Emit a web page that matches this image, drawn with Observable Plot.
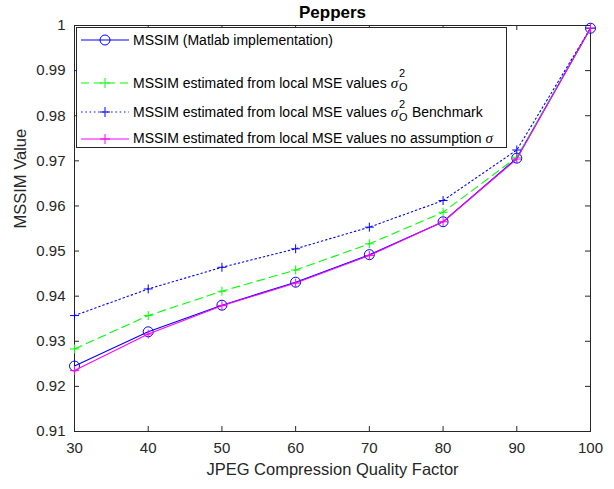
<!DOCTYPE html>
<html>
<head>
<meta charset="utf-8">
<script src="https://cdn.jsdelivr.net/npm/d3@7"></script>
<script src="https://cdn.jsdelivr.net/npm/@observablehq/plot@0.6"></script>
<style>
  body { margin: 0; background: #fff; font-family: "Liberation Sans", Arial, sans-serif; }
  #wrap { position: relative; width: 614px; height: 489px; }
  .legend { position: absolute; left: 76px; top: 27px; width: 429px; height: 119px;
            border: 1px solid #262626; background: #fff; font-size: 14px; color: #000; }
  .row { position: absolute; left: 0; height: 20px; display: flex; align-items: center; white-space: nowrap; }
  .row svg { margin-left: 4px; margin-right: 4px; }
  .sig { font-family: "Liberation Serif", serif; font-style: italic; font-size: 15px; margin-left: 4px; }
  .ss { position: relative; display: inline-block; width: 10px; height: 14px; font-size: 11px; }
  .ss span { position: absolute; left: 1px; line-height: 1; }
</style>
</head>
<body>
<div id="wrap"></div>
<script>
// JPEG quality factors on the x axis
const quality = [30, 40, 50, 60, 70, 80, 90, 100];

// MSSIM per quality factor, one array per method
const mssimMatlab       = [0.9245, 0.9321, 0.9380, 0.9431, 0.9492, 0.9565, 0.9706, 0.9994];
const mssimLocal        = [0.9283, 0.9357, 0.9411, 0.9458, 0.9516, 0.9586, 0.9708, 0.9994];
const mssimBenchmark    = [0.9357, 0.9416, 0.9464, 0.9505, 0.9553, 0.9612, 0.9724, 0.9994];
const mssimNoAssumption = [0.9235, 0.9316, 0.9379, 0.9429, 0.9490, 0.9565, 0.9704, 0.9994];

// axis ticks
const xTicks = [30, 40, 50, 60, 70, 80, 90, 100];
const yTicks = [0.91, 0.92, 0.93, 0.94, 0.95, 0.96, 0.97, 0.98, 0.99, 1];

const title = "Peppers";
const xLabel = "JPEG Compression Quality Factor";
const yLabel = "MSSIM Value";

const W = 614, H = 489, mL = 74, mR = 24, mT = 25, mB = 58;
const iw = W - mL - mR, ih = H - mT - mB, tk = 5;
const axisColor = "#262626";

const series = (ys) => quality.map((q, i) => ({q, v: ys[i]}));
const sMatlab = series(mssimMatlab);
const sLocal = series(mssimLocal);
const sBench = series(mssimBenchmark);
const sNoAss = series(mssimNoAssumption);

const lineOpts = {x: "q", y: "v", strokeWidth: 1.1};
const plusOpts = {x: "q", y: "v", r: 3, symbol: "plus", strokeWidth: 1};

const chart = Plot.plot({
  width: W, height: H,
  marginLeft: mL, marginRight: mR, marginTop: mT, marginBottom: mB,
  style: {fontFamily: "'Liberation Sans', Arial, sans-serif", fontSize: "15px", color: axisColor, background: "#fff"},
  x: {domain: [30, 100]},
  y: {domain: [0.91, 1]},
  marks: [
    Plot.axisX(xTicks, {tickSize: 0, tickPadding: 11, label: null, fontSize: 15}),
    Plot.axisY(yTicks, {tickSize: 0, tickPadding: 9, label: null, fontSize: 15,
                        tickFormat: d => String(+d.toFixed(2))}),
    // inward ticks on all four sides
    Plot.tickX(xTicks, {x: d => d, insetTop: ih - tk, stroke: axisColor}),
    Plot.tickX(xTicks, {x: d => d, insetBottom: ih - tk, stroke: axisColor}),
    Plot.tickY(yTicks, {y: d => d, insetRight: iw - tk, stroke: axisColor}),
    Plot.tickY(yTicks, {y: d => d, insetLeft: iw - tk, stroke: axisColor}),
    Plot.frame({stroke: axisColor}),
    // MSSIM (Matlab implementation)
    Plot.line(sMatlab, {...lineOpts, stroke: "#0000ff"}),
    Plot.dot(sMatlab, {x: "q", y: "v", r: 5, stroke: "#0000ff", fill: "none", strokeWidth: 1}),
    // local MSE, sigma_O^2
    Plot.line(sLocal, {...lineOpts, stroke: "#00ff00", strokeDasharray: "8,5"}),
    Plot.dot(sLocal, {...plusOpts, stroke: "#00ff00"}),
    // local MSE, sigma_O^2 benchmark
    Plot.line(sBench, {...lineOpts, stroke: "#0000ff", strokeDasharray: "1.5,2.8"}),
    Plot.dot(sBench, {...plusOpts, stroke: "#0000ff"}),
    // local MSE, no assumption
    Plot.line(sNoAss, {...lineOpts, stroke: "#ff00ff"}),
    Plot.dot(sNoAss, {...plusOpts, stroke: "#ff00ff"}),
    // title and axis labels
    Plot.text([title], {frameAnchor: "top", lineAnchor: "middle", dy: -13, fontWeight: "bold", fontSize: 17, fill: "#000"}),
    Plot.text([xLabel], {frameAnchor: "bottom", lineAnchor: "middle", dy: 38, fontSize: 16.5, fill: axisColor}),
    Plot.text([yLabel], {frameAnchor: "left", lineAnchor: "middle", dx: -54, rotate: -90, fontSize: 16.5, fill: axisColor})
  ]
});

const wrap = document.getElementById("wrap");
wrap.appendChild(chart);

// legend entries
const legendItems = [
  {color: "#0000ff", dash: null, marker: "circle", center: 12,
   html: "MSSIM (Matlab implementation)"},
  {color: "#00ff00", dash: "8,5", marker: "plus", center: 54.5,
   html: "MSSIM estimated from local MSE values<span class='sig'>σ</span><span class='ss'><span style='top:-6px'>2</span><span style='top:8px'>O</span></span>"},
  {color: "#0000ff", dash: "1.5,2.8", marker: "plus", center: 83.5,
   html: "MSSIM estimated from local MSE values<span class='sig'>σ</span><span class='ss'><span style='top:-4px'>2</span><span style='top:9px'>O</span></span>&nbsp;Benchmark"},
  {color: "#ff00ff", dash: null, marker: "plus", center: 110.5,
   html: "MSSIM estimated from local MSE values no assumption<span class='sig'>σ</span>"}
];

const legend = document.createElement("div");
legend.className = "legend";
for (const it of legendItems) {
  const row = document.createElement("div");
  row.className = "row";
  row.style.top = (it.center - 10) + "px";
  const mk = it.marker === "circle"
    ? `<circle cx="24" cy="7" r="5" fill="none" stroke="${it.color}"/>`
    : `<path d="M19,7H29M24,2V12" stroke="${it.color}" fill="none"/>`;
  row.innerHTML =
    `<svg width="48" height="14"><line x1="0" y1="7" x2="48" y2="7" stroke="${it.color}" stroke-width="1.1"${it.dash ? ` stroke-dasharray="${it.dash}"` : ""}/>${mk}</svg>` +
    `<span>${it.html}</span>`;
  legend.appendChild(row);
}
wrap.appendChild(legend);
</script>
</body>
</html>
